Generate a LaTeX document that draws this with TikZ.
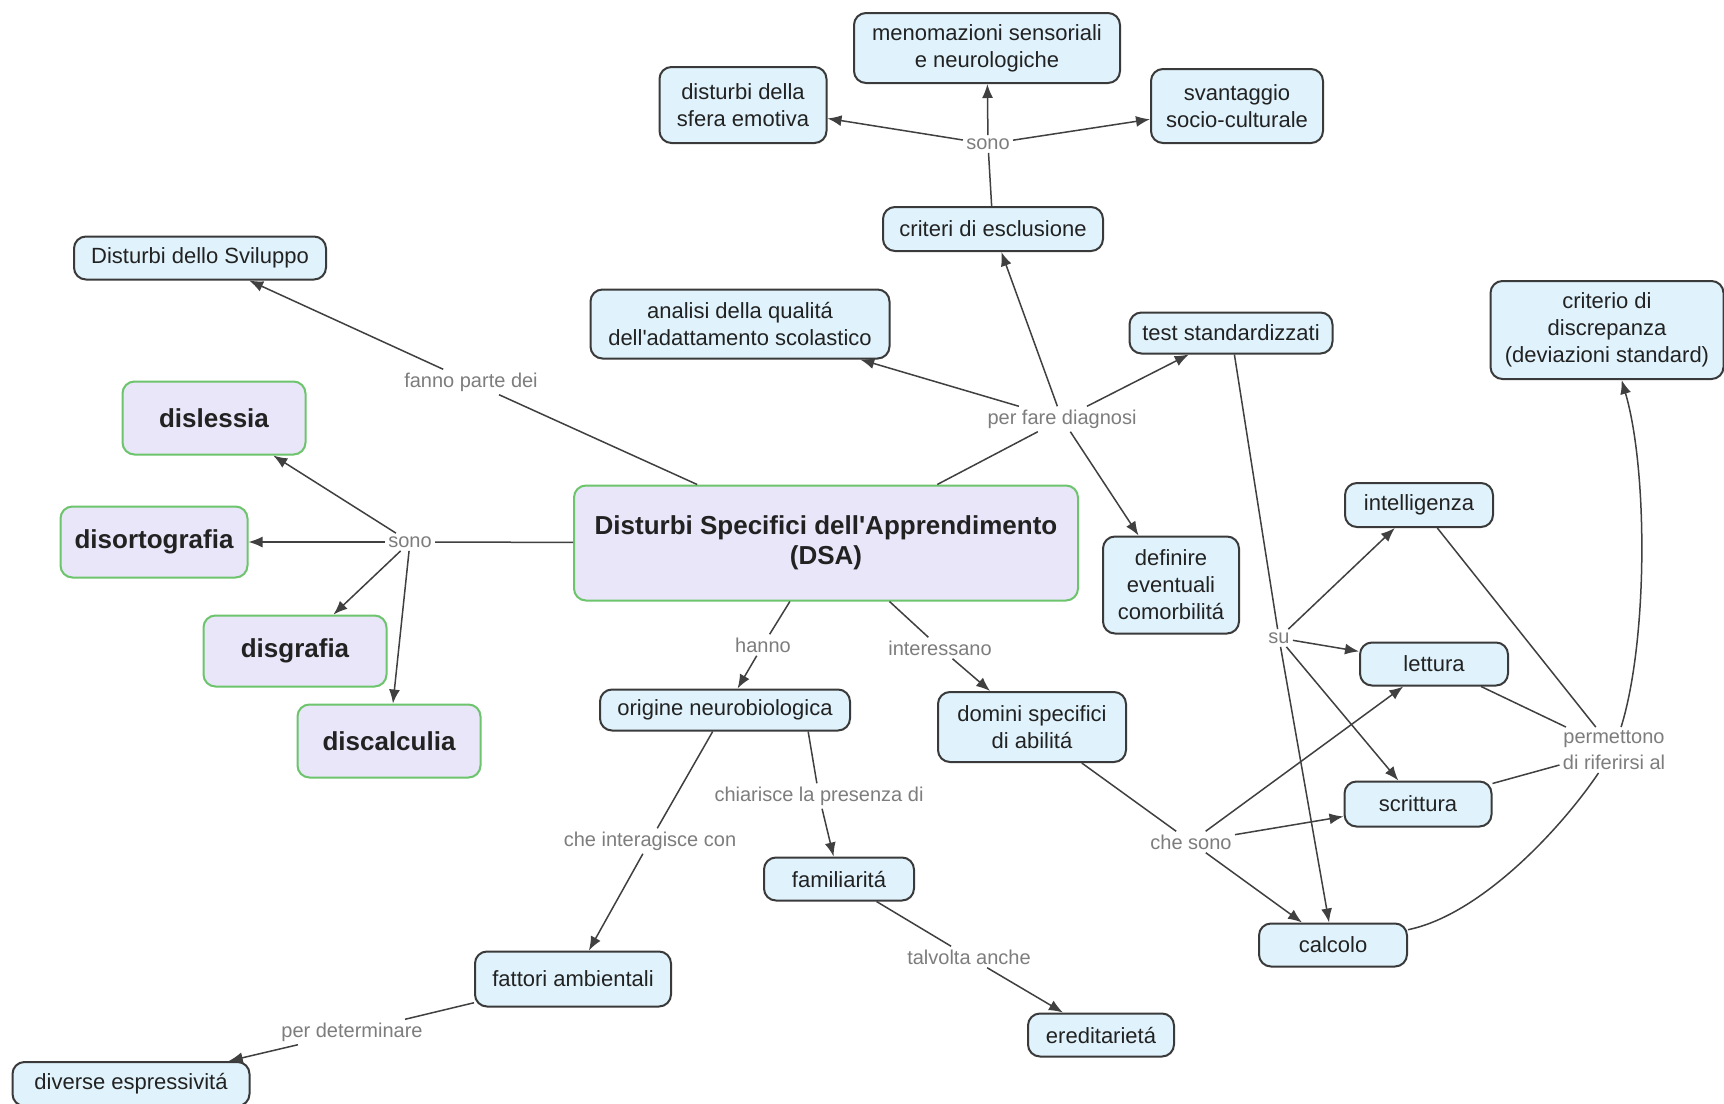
\documentclass[tikz,border=0pt]{standalone}
\usepackage{fontspec}
\setmainfont{Liberation Sans}
\usetikzlibrary{arrows.meta,calc}
\definecolor{bluef}{RGB}{224,243,252}
\definecolor{bord}{RGB}{58,58,58}
\definecolor{lav}{RGB}{232,230,248}
\definecolor{greenb}{RGB}{108,196,108}
\definecolor{linec}{RGB}{64,64,64}
\definecolor{labc}{RGB}{125,125,125}
\definecolor{textc}{RGB}{34,34,34}
\begin{document}
\begin{tikzpicture}[x=0.5pt,y=-0.5pt,
  base/.style={rounded corners=6pt, line width=1pt, align=center, inner sep=2pt,
    font=\fontsize{11}{13.5}\selectfont, text=textc},
  bbox/.style={base, draw=bord, fill=bluef},
  gbox/.style={base, draw=greenb, fill=lav, font=\fontsize{13}{15}\selectfont\bfseries},
  sz/.style 2 args={minimum width=#1*0.5pt, minimum height=#2*0.5pt},
  lbl/.style={font=\fontsize{10}{13}\selectfont, text=labc, inner sep=1.5pt, align=center},
  conn/.style={draw=linec, line width=0.75pt},
  arr/.style={conn, -{Latex[length=7pt,width=5.5pt]}}]
\fill[white] (0,0) rectangle (1724,1103);
\useasboundingbox (0,0) rectangle (1724,1103);

% nodes
\node[bbox, sz={266}{70}] (menom) at (987,48) {menomazioni sensoriali\\e neurologiche};
\node[bbox, sz={167}{76}] (sfera) at (743,105) {disturbi della\\sfera emotiva};
\node[bbox, sz={172}{74}] (svant) at (1237,106) {svantaggio\\socio-culturale};
\node[lbl] (sono1) at (988,144) {sono};
\node[bbox, sz={220}{44}] (criteri) at (993,229) {criteri di esclusione};
\node[bbox, sz={252}{43}] (svil) at (200,258) {Disturbi dello Sviluppo};
\node[bbox, sz={299}{69}] (analisi) at (740,324) {analisi della qualitá\\dell\textquotesingle adattamento scolastico};
\node[bbox, sz={203}{41}] (test) at (1231,333) {test standardizzati};
\node[bbox, sz={233}{98}] (criterio) at (1607,330) {criterio di\\discrepanza\\(deviazioni standard)};
\node[lbl] (fanno) at (471,382) {fanno parte dei};
\node[lbl] (diag) at (1062,419) {per fare diagnosi};
\node[gbox, sz={183}{73}] (disles) at (214,418) {dislessia};
\node[gbox, sz={187}{71}] (disorto) at (154,542) {disortografia};
\node[lbl] (sono2) at (410,542) {sono};
\node[gbox, sz={504}{115}] (dsa) at (826,543) {Disturbi Specifici dell\textquotesingle Apprendimento\\(DSA)};
\node[bbox, sz={136}{97}] (definire) at (1171,585) {definire\\eventuali\\comorbilitá};
\node[bbox, sz={148}{44}] (intell) at (1419,505) {intelligenza};
\node[gbox, sz={183}{71}] (disgraf) at (295,651) {disgrafia};
\node[gbox, sz={183}{73}] (discalc) at (389,741) {discalculia};
\node[lbl] (hanno) at (763,645) {hanno};
\node[lbl] (inter) at (940,648) {interessano};
\node[lbl] (su) at (1279,638) {su};
\node[bbox, sz={148}{43}] (lettura) at (1434,664) {lettura};
\node[bbox, sz={250}{41}] (origine) at (725,710) {origine neurobiologica};
\node[bbox, sz={188}{70}] (domini) at (1032,727) {domini specifici\\di abilitá};
\node[lbl] (perm) at (1614,750) {permettono\\di riferirsi al};
\node[lbl] (chiar) at (819,796) {chiarisce la presenza di};
\node[bbox, sz={147}{45}] (scrit) at (1418,804) {scrittura};
\node[lbl] (interag) at (650,841) {che interagisce con};
\node[lbl] (chesono) at (1191,842) {che sono};
\node[bbox, sz={150}{43}] (famil) at (839,879) {familiaritá};
\node[bbox, sz={148}{43}] (calcolo) at (1333,945) {calcolo};
\node[lbl] (talv) at (969,957) {talvolta anche};
\node[bbox, sz={196}{55}] (fattori) at (573,979) {fattori ambientali};
\node[lbl] (determ) at (352,1032) {per determinare};
\node[bbox, sz={146}{43}] (ered) at (1101,1035) {ereditarietá};
\node[bbox, sz={237}{44}] (diverse) at (131,1084) {diverse espressivitá};

\coordinate (oright) at ($(origine.south west)!0.83!(origine.south east)$);

% connectors
\draw[conn] (criteri) -- (sono1);
\draw[arr] (sono1) -- (menom);
\draw[arr] (sono1) -- (sfera);
\draw[arr] (sono1) -- (svant);

\draw[conn] (dsa) -- (fanno);
\draw[arr] (fanno) -- (svil);

\draw[conn] (dsa) -- (diag);
\draw[arr] (diag) -- (analisi);
\draw[arr] (diag) -- (criteri);
\draw[arr] (diag) -- (test);
\draw[arr] (diag) -- (definire);

\draw[conn] (dsa) -- (sono2);
\draw[arr] (sono2) -- (disles);
\draw[arr] (sono2) -- (disorto);
\draw[arr] (sono2) -- (disgraf);
\draw[arr] (sono2) -- (discalc);

\draw[conn] (dsa) -- (hanno);
\draw[arr] (hanno) -- (origine);
\draw[conn] (dsa) -- (inter);
\draw[arr] (inter) -- (domini);

\draw[conn] (origine) -- (interag);
\draw[arr] (interag) -- (fattori);
\draw[conn] (oright) -- (chiar);
\draw[arr] (chiar) -- (famil);
\draw[conn] (famil) -- (talv);
\draw[arr] (talv) -- (ered);
\draw[conn] (fattori) -- (determ);
\draw[arr] (determ) -- (diverse);

\draw[conn] (domini) -- (chesono);
\draw[arr] (chesono) -- (lettura);
\draw[arr] (chesono) -- (scrit);
\draw[arr] (chesono) -- (calcolo);

\draw[conn] (test) -- (su);
\draw[arr] (su) -- (intell);
\draw[arr] (su) -- (lettura);
\draw[arr] (su) -- (scrit);
\draw[arr] (su) -- (calcolo);

\draw[conn] (intell) -- (perm);
\draw[conn] (lettura) -- (perm);
\draw[conn] (scrit) -- (perm);
\draw[conn] (calcolo) .. controls (1480,915) and (1560,830) .. (perm);
\draw[arr] (perm) .. controls (1648,640) and (1648,470) .. (criterio);
\end{tikzpicture}
\end{document}
